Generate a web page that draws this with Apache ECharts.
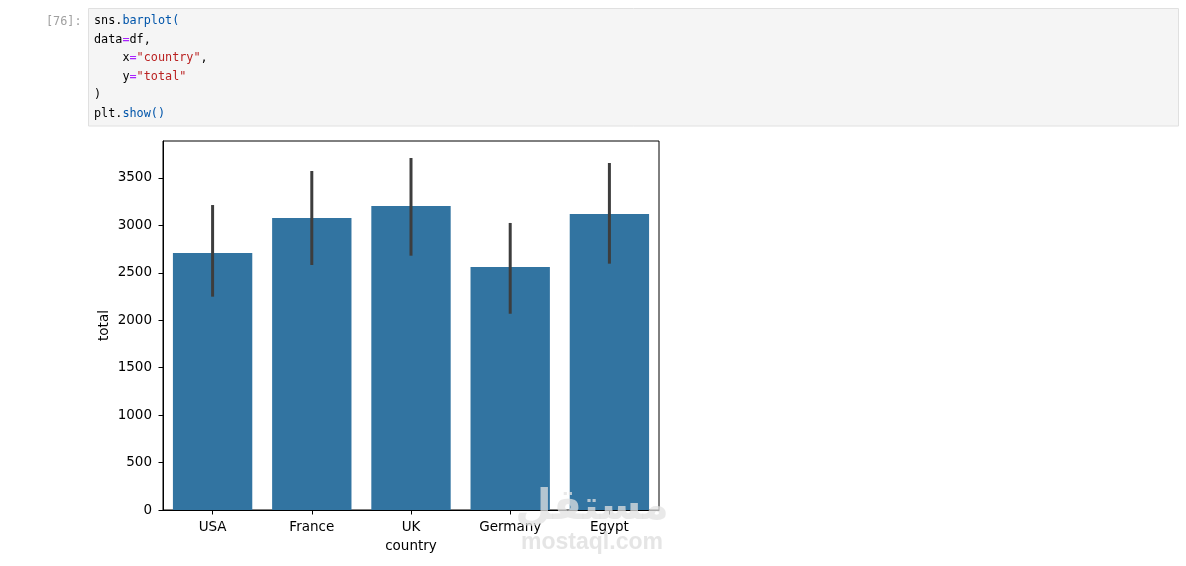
<!DOCTYPE html>
<html>
<head>
<meta charset="utf-8">
<script src="https://cdn.jsdelivr.net/npm/echarts@6/dist/echarts.min.js"></script>
<style>
html,body{margin:0;padding:0;background:#fff;}
#chart{width:1186px;height:566px;}
</style>
</head>
<body>
<div id="chart"></div>
<script>
// ---- data ----
var categories = ['USA', 'France', 'UK', 'Germany', 'Egypt'];
var totals = [2709, 3078, 3205, 2562, 3120];
var ciLow = [2249, 2583, 2681, 2069, 2597];
var ciHigh = [3215, 3574, 3711, 3026, 3658];
var yTicks = [0, 500, 1000, 1500, 2000, 2500, 3000, 3500];
var codeLines = [
  '{n|sns.}{f|barplot(}',
  '{n|data}{o|=}{n|df,}',
  '{n|    x}{o|=}{s|"country"}{n|,}',
  '{n|    y}{o|=}{s|"total"}',
  '{n|)}',
  '{n|plt.}{f|show()}'
];

var chart = echarts.init(document.getElementById('chart'), null, {renderer: 'canvas'});

var mono = 'DejaVu Sans Mono';
var codeRich = {
  n: {fontFamily: mono, fontSize: 11.8, fill: '#000000'},
  f: {fontFamily: mono, fontSize: 11.8, fill: '#0055aa'},
  o: {fontFamily: mono, fontSize: 11.8, fill: '#aa22ff'},
  s: {fontFamily: mono, fontSize: 11.8, fill: '#ba2121'}
};
var lineY = [21, 39.5, 58, 76.5, 95, 113.5];
var graphics = [
  {type: 'rect', shape: {x: 88.5, y: 8.5, width: 1090, height: 117.5},
   style: {fill: '#f5f5f5', stroke: '#e0e0e0', lineWidth: 1}, z: 0},
  {type: 'text', x: 46, y: 22, z: 1,
   style: {text: '[76]:', fontFamily: mono, fontSize: 11.8, fill: '#a0a0a0', verticalAlign: 'middle'}}
];
codeLines.forEach(function (t, i) {
  graphics.push({type: 'text', x: 94, y: lineY[i], z: 1,
    style: {text: t, rich: codeRich, verticalAlign: 'middle', fontFamily: mono, fontSize: 11.8}});
});
// watermark
graphics.push({type: 'text', x: 592, y: 508, z: 100,
  style: {text: 'مستقل', fontFamily: 'DejaVu Sans', fontWeight: 'bold', fontSize: 42,
    fill: 'rgba(225,225,225,0.75)', align: 'center', verticalAlign: 'middle'}});
graphics.push({type: 'text', x: 592, y: 543, z: 100,
  style: {text: 'mostaql.com', fontFamily: 'Liberation Sans', fontWeight: 'bold', fontSize: 23,
    fill: 'rgba(225,225,225,0.85)', align: 'center', verticalAlign: 'middle'}});

var errData = categories.map(function (c, i) { return [i, ciLow[i], ciHigh[i]]; });

var option = {
  animation: false,
  backgroundColor: '#fff',
  textStyle: {fontFamily: 'DejaVu Sans'},
  graphic: graphics,
  grid: {left: 163, top: 141, width: 496, height: 369, show: true,
    borderColor: '#000', borderWidth: 1, backgroundColor: 'transparent'},
  xAxis: {
    type: 'category', data: categories,
    name: 'country', nameLocation: 'middle', nameGap: 29,
    nameTextStyle: {fontFamily: 'DejaVu Sans', fontSize: 13.5, color: '#000'},
    axisLine: {show: true, lineStyle: {color: '#000', width: 1}},
    axisTick: {show: true, alignWithLabel: true, length: 4.5, lineStyle: {color: '#000'}},
    axisLabel: {fontFamily: 'DejaVu Sans', fontSize: 13.5, color: '#000', margin: 10},
    splitLine: {show: false}
  },
  yAxis: {
    type: 'value', min: 0, max: 3890, interval: 500,
    name: 'total', nameLocation: 'middle', nameGap: 52, nameRotate: 90,
    nameTextStyle: {fontFamily: 'DejaVu Sans', fontSize: 13.5, color: '#000'},
    axisLine: {show: true, lineStyle: {color: '#000', width: 1}},
    axisTick: {show: true, length: 4.5, lineStyle: {color: '#000'}},
    axisLabel: {fontFamily: 'DejaVu Sans', fontSize: 13.5, color: '#000', margin: 11,
      padding: [4, 0, 0, 0],
      showMaxLabel: false,
      formatter: function (v) { return yTicks.indexOf(v) >= 0 ? String(v) : ''; }},
    splitLine: {show: false}
  },
  series: [
    {type: 'bar', data: totals, barCategoryGap: '20%',
     itemStyle: {color: '#3274a1'}, z: 2},
    {type: 'custom', data: errData, z: 3,
     renderItem: function (params, api) {
       var p1 = api.coord([api.value(0), api.value(1)]);
       var p2 = api.coord([api.value(0), api.value(2)]);
       return {type: 'line', shape: {x1: p1[0], y1: p1[1], x2: p2[0], y2: p2[1]},
         style: {stroke: '#3d3d3d', lineWidth: 3}};
     }}
  ]
};
chart.setOption(option);
</script>
</body>
</html>
